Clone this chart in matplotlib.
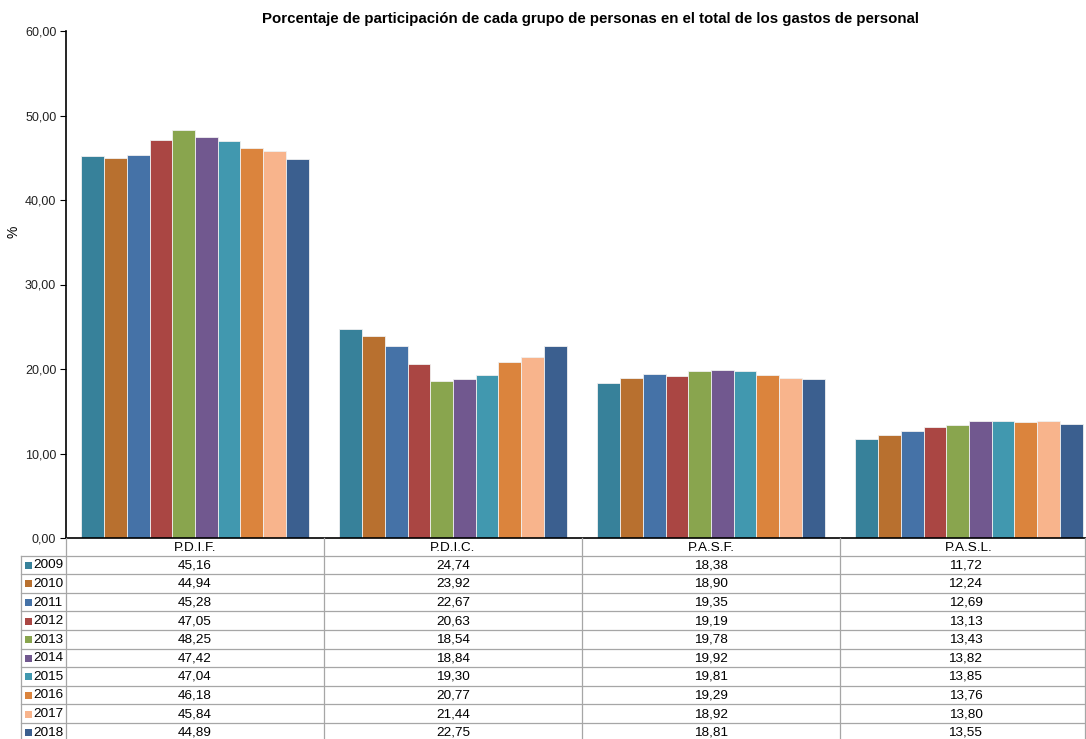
import matplotlib
matplotlib.use('Agg')
import matplotlib.pyplot as plt
from matplotlib.patches import Rectangle

plt.rcParams['font.family'] = ['Liberation Sans', 'DejaVu Sans']

title = 'Porcentaje de participación de cada grupo de personas en el total de los gastos de personal'
categories = ['P.D.I.F.', 'P.D.I.C.', 'P.A.S.F.', 'P.A.S.L.']
years = ['2009', '2010', '2011', '2012', '2013', '2014', '2015', '2016', '2017', '2018']
v2009 = [45.16, 24.74, 18.38, 11.72]
v2010 = [44.94, 23.92, 18.90, 12.24]
v2011 = [45.28, 22.67, 19.35, 12.69]
v2012 = [47.05, 20.63, 19.19, 13.13]
v2013 = [48.25, 18.54, 19.78, 13.43]
v2014 = [47.42, 18.84, 19.92, 13.82]
v2015 = [47.04, 19.30, 19.81, 13.85]
v2016 = [46.18, 20.77, 19.29, 13.76]
v2017 = [45.84, 21.44, 18.92, 13.80]
v2018 = [44.89, 22.75, 18.81, 13.55]
series = [v2009, v2010, v2011, v2012, v2013, v2014, v2015, v2016, v2017, v2018]
yticks = [0, 10, 20, 30, 40, 50, 60]

colors = ['#37819A', '#B8702F', '#4572A7', '#AA4643', '#89A54E',
          '#71588F', '#4198AF', '#DB843D', '#F8B48C', '#3B5F8F']

def fmt(v):
    return f'{v:.2f}'.replace('.', ',')

W, H = 1086, 739
fig = plt.figure(figsize=(W / 100, H / 100), dpi=100)
x0, x1 = 66, 1098
y0, y1 = 31, 538
ax = fig.add_axes([x0 / W, 1 - y1 / H, (x1 - x0) / W, (y1 - y0) / H])

n = len(series)
bw = 0.088
for k, vals in enumerate(series):
    xs = [i - n * bw / 2 + (k + 0.5) * bw for i in range(len(categories))]
    ax.bar(xs, vals, width=bw, color=colors[k], edgecolor='#f0f0f0', linewidth=0.6)

ax.set_xlim(-0.5, len(categories) - 0.5)
ax.set_ylim(0, 60)
ax.set_yticks(yticks)
ax.set_yticklabels([fmt(t) for t in yticks], fontsize=9, color='#222222')
ax.tick_params(axis='y', length=4, width=0.8, pad=3)
ax.set_xticks([])
for s in ['top', 'right']:
    ax.spines[s].set_visible(False)
ax.spines['left'].set_linewidth(1.2)
ax.spines['bottom'].set_linewidth(1.2)

# overlay in pixel coordinates for title, label and data table
ov = fig.add_axes([0, 0, 1, 1])
ov.set_xlim(0, W)
ov.set_ylim(H, 0)
ov.axis('off')
ov.patch.set_alpha(0)

ov.text(591, 19, title, ha='center', va='center', fontsize=10.8, fontweight='bold')
ov.text(14, 232, '%', ha='center', va='center', rotation=90, fontsize=10)

grid_c = '#a6a6a6'
col_w = (x1 - x0) / len(categories)
col_edges = [x0 + i * col_w for i in range(len(categories) + 1)]
col_edges[-1] = W - 1
header_top = 538
header_bot = 555.5
row_h = 18.6
bottom = header_bot + row_h * n
fs_tab = 9.7

# vertical lines
for xe in col_edges:
    ov.plot([xe, xe], [header_top, bottom], color=grid_c, lw=0.9)
ov.plot([21, 21], [header_bot, bottom], color=grid_c, lw=0.9)
# horizontal lines
ov.plot([21, W], [header_bot, header_bot], color=grid_c, lw=0.9)
for r in range(1, n + 1):
    yy = header_bot + r * row_h
    ov.plot([21, W], [yy, yy], color=grid_c, lw=0.9)

for i, c in enumerate(categories):
    cx = (col_edges[i] + col_edges[i + 1]) / 2 if i < len(categories) - 1 else x0 + (i + 0.5) * col_w
    ov.text(cx, (header_top + header_bot) / 2 + 1, c, ha='center', va='center', fontsize=fs_tab)

for k in range(n):
    cy = header_bot + (k + 0.5) * row_h + 0.5
    ov.add_patch(Rectangle((25, cy - 3.5), 7, 7, facecolor=colors[k], edgecolor='none'))
    ov.text(33, cy, years[k], ha='left', va='center', fontsize=fs_tab)
    for i in range(len(categories)):
        cx = x0 + (i + 0.5) * col_w
        if i == len(categories) - 1:
            cx = (col_edges[i] + col_edges[i + 1]) / 2 + 3
        ov.text(cx, cy, fmt(series[k][i]), ha='center', va='center', fontsize=fs_tab)

fig.savefig('out.png', dpi=100)
